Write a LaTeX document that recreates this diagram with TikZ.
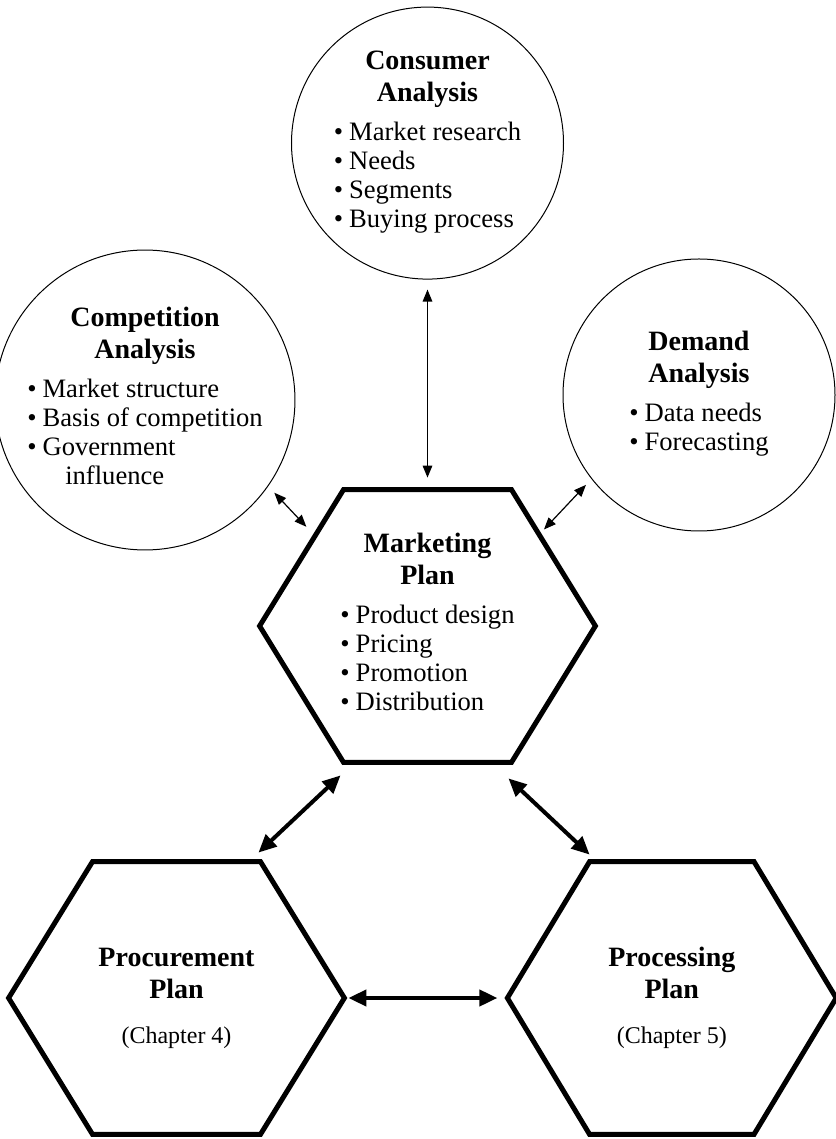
\documentclass[tikz,border=0pt]{standalone}
\usepackage{fontspec}
\setmainfont{Liberation Serif}
\usetikzlibrary{arrows.meta,positioning,calc}
\newcommand{\boxtitle}[1]{{\fontsize{14}{16}\selectfont\bfseries #1}}
\newcommand{\blt}{\textbullet\hspace{3pt}}
\newcommand{\bullist}[1]{\begin{tabular}[t]{@{}l@{}}#1\end{tabular}}

\begin{document}
\begin{tikzpicture}[
  x=0.5pt, y=0.5pt,
  font=\fontsize{13.3}{14.5}\selectfont,
  bubble/.style={draw,circle,line width=0.5pt,minimum size=136pt,inner sep=0pt,align=center},
  hexbox/.style={minimum width=167.5pt,minimum height=136pt,inner sep=0pt,align=center},
  hexline/.style={line width=2.5pt,line join=miter},
  thinarr/.style={{Triangle[length=6pt,width=4.8pt]}-{Triangle[length=6pt,width=4.8pt]},line width=0.6pt},
  thickarr/.style={{Triangle[length=9pt,width=8pt]}-{Triangle[length=9pt,width=8pt]},line width=2pt}
]
  \useasboundingbox (-427.5,626) rectangle (407.5,-513);

  % the plan in the middle and the two plans below it
  \node[hexbox] (mkt) at (0,0) {\boxtitle{Marketing}\\[1.5pt]\boxtitle{Plan}\\[5pt]
    \bullist{\blt Product design\\ \blt Pricing\\ \blt Promotion\\ \blt Distribution}};
  \node[hexbox] (proc) at (-251,-372) {\boxtitle{Procurement}\\[1.5pt]\boxtitle{Plan}\\[8pt]
    {\fontsize{12}{14}\selectfont (Chapter 4)}};
  \node[hexbox,minimum width=164pt,right=81.5pt of proc] (prsg) {\boxtitle{Processing}\\[1.5pt]\boxtitle{Plan}\\[8pt]
    {\fontsize{12}{14}\selectfont (Chapter 5)}};

  % analyses feeding the marketing plan
  \node[bubble,above=105pt of mkt] (cons) {\boxtitle{Consumer}\\[1.5pt]\boxtitle{Analysis}\\[5pt]
    \bullist{\blt Market research\\ \blt Needs\\ \blt Segments\\ \blt Buying process}};
  \node[bubble] (comp) at (-282.5,226) {\boxtitle{Competition}\\[1.5pt]\boxtitle{Analysis}\\[5pt]
    \bullist{\blt Market structure\\ \blt Basis of competition\\ \blt Government\\ \hspace{19pt}influence}};
  \node[bubble] (dem) at (271.5,231) {\boxtitle{Demand}\\[1.5pt]\boxtitle{Analysis}\\[5pt]
    \bullist{\blt Data needs\\ \blt Forecasting}};

  % hexagon outlines
  \foreach \h in {mkt,proc,prsg}{
    \coordinate (\h-tl) at ($(\h.north west)!.25!(\h.north east)$);
    \coordinate (\h-tr) at ($(\h.north west)!.75!(\h.north east)$);
    \coordinate (\h-br) at ($(\h.south west)!.75!(\h.south east)$);
    \coordinate (\h-bl) at ($(\h.south west)!.25!(\h.south east)$);
    \draw[hexline] (\h-tl) -- (\h-tr) -- (\h.east) -- (\h-br) -- (\h-bl) -- (\h.west) -- cycle;
  }

  \draw[thinarr,shorten <=5pt,shorten >=6pt] (cons) -- (mkt);
  \draw[thinarr,shorten <=4.4pt,shorten >=6.3pt] (comp.-35) -- ($(mkt-tl)!.34!(mkt.west)$);
  \draw[thinarr,shorten <=4pt,shorten >=3.5pt] (dem.218) -- ($(mkt-tr)!.33!(mkt.east)$);
  \draw[thickarr] ($(mkt-bl)+(-3,-13)$) -- ($(proc-tr)+(-2,9)$);
  \draw[thickarr] ($(mkt-br)+(-3,-16)$) -- ($(prsg-tl)+(0,7)$);
  \draw[thickarr,shorten <=2pt,shorten >=5pt] (proc) -- (prsg);
\end{tikzpicture}
\end{document}
